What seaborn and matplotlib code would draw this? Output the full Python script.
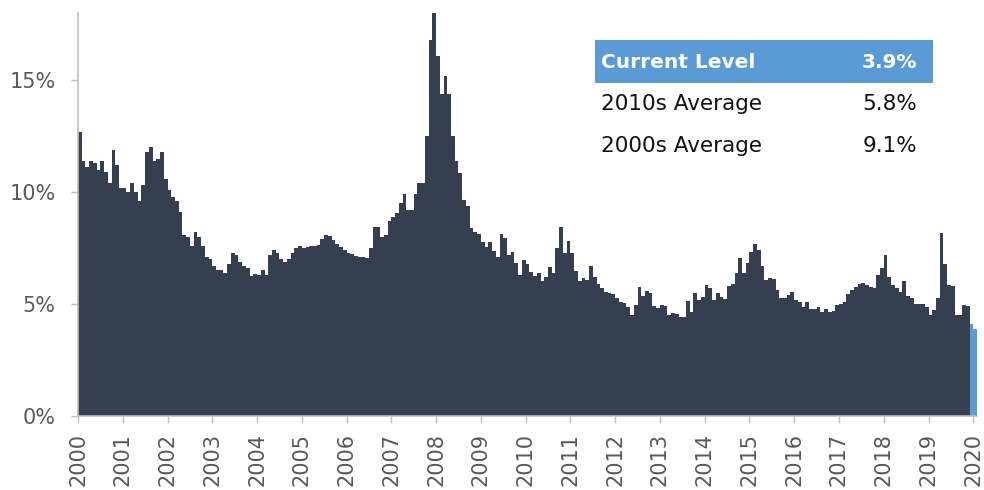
import numpy as np
import pandas as pd
import matplotlib
matplotlib.use("Agg")
import matplotlib.pyplot as plt
import seaborn as sns
from matplotlib.patches import Rectangle

# Monthly values, Jan 2000 .. Jan 2020 (percent)
values_2000s = [
    12.7, 11.4, 11.1, 11.4, 11.3, 11.0, 11.4, 10.9, 10.4, 11.9, 11.2, 10.2,   # 2000
    10.2, 10.0, 10.4, 10.0, 9.6, 10.3, 11.8, 12.0, 11.4, 11.5, 11.8, 10.6,    # 2001
    10.1, 9.8, 9.6, 9.1, 8.1, 8.0, 7.6, 8.2, 8.0, 7.6, 7.1, 7.0,              # 2002
    6.7, 6.5, 6.5, 6.4, 6.8, 7.3, 7.2, 6.9, 6.7, 6.6, 6.25, 6.35,             # 2003
    6.3, 6.5, 6.3, 7.2, 7.4, 7.3, 7.0, 6.9, 7.0, 7.3, 7.5, 7.6,               # 2004
    7.5, 7.55, 7.6, 7.6, 7.65, 7.9, 8.1, 8.05, 7.85, 7.7, 7.55, 7.4,          # 2005
    7.3, 7.25, 7.15, 7.1, 7.1, 7.05, 7.5, 8.45, 8.45, 8.0, 8.1, 8.7,          # 2006
    8.9, 9.05, 9.5, 9.9, 9.2, 9.2, 9.9, 10.4, 10.4, 12.5, 16.8, 18.0,         # 2007
    16.1, 14.4, 15.2, 14.4, 12.5, 11.4, 10.85, 9.65, 9.4, 8.4, 8.2, 8.15,     # 2008
    7.75, 7.55, 7.75, 7.35, 7.1, 8.15, 7.96, 7.19, 7.34, 6.82, 6.29, 6.99,    # 2009
]
values_2010s = [
    6.79, 6.41, 6.25, 6.37, 6.04, 6.22, 6.67, 6.37, 7.51, 8.42, 7.29, 7.80,   # 2010
    7.29, 6.47, 6.03, 6.15, 6.07, 6.70, 6.19, 5.88, 5.70, 5.52, 5.48, 5.43,   # 2011
    5.25, 5.09, 5.03, 4.85, 4.51, 4.96, 5.77, 5.37, 5.59, 5.48, 4.93, 4.84,   # 2012
    4.94, 4.90, 4.51, 4.58, 4.54, 4.40, 4.43, 5.12, 4.66, 5.48, 5.18, 5.33,   # 2013
    5.85, 5.73, 5.18, 5.51, 5.33, 5.24, 5.80, 5.89, 6.37, 7.04, 6.40, 6.85,   # 2014
    7.34, 7.68, 7.41, 6.71, 6.07, 6.15, 6.13, 5.61, 5.28, 5.25, 5.39, 5.55,   # 2015
    5.18, 5.10, 4.88, 5.07, 4.76, 4.76, 4.88, 4.66, 4.76, 4.63, 4.69, 4.96,   # 2016
    4.99, 5.10, 5.45, 5.65, 5.74, 5.88, 5.92, 5.83, 5.77, 5.73, 6.29, 6.59,   # 2017
    7.19, 6.22, 5.85, 5.70, 5.52, 6.04, 5.36, 5.25, 4.99, 4.99, 4.99, 4.85,   # 2018
    4.51, 4.73, 5.28, 8.18, 6.79, 5.83, 5.80, 4.51, 4.51, 4.96, 4.90, 4.09,   # 2019
]
values_2020 = [3.9]
values = values_2000s + values_2010s + values_2020
n_current = 2  # most recent bars highlighted

year_labels = [str(y) for y in range(2000, 2021)]
ytick_vals = [0, 5, 10, 15]
ytick_labels = ["0%", "5%", "10%", "15%"]

table_labels = ["Current Level", "2010s Average", "2000s Average"]
table_values = ["3.9%", "5.8%", "9.1%"]

DARK = "#353F50"
BLUE = "#5B9BD5"
AXIS_GRAY = "#BFBFBF"
TEXT_GRAY = "#595959"

sns.set_theme(style="white")
plt.rcParams['font.family'] = ['DejaVu Sans']

W, H = 984, 490
fig = plt.figure(figsize=(W / 100, H / 100), dpi=100)
ax = fig.add_axes([78 / W, 1 - 416 / H, (977 - 78) / W, (416 - 13) / H])

n = len(values)
df = pd.DataFrame({
    "idx": np.arange(n),
    "value": values,
    "group": ["past"] * (n - n_current) + ["current"] * n_current,
})
sns.barplot(data=df, x="idx", y="value", hue="group",
            palette={"past": DARK, "current": BLUE},
            width=1.0, dodge=False, legend=False, saturation=1,
            linewidth=0, ax=ax)
for p in ax.patches:
    p.set_edgecolor("none")
    p.set_linewidth(0)
    p.set_antialiased(False)

ax.set_xlim(-0.5, n - 0.5)
ax.set_ylim(0, 18)
ax.set_xticks([12 * k - 0.5 for k in range(len(year_labels))])
ax.set_xticklabels(year_labels, rotation=90, fontsize=15, color=TEXT_GRAY)
ax.set_yticks(ytick_vals)
ax.set_yticklabels(ytick_labels, fontsize=15, color=TEXT_GRAY)
ax.set_xlabel("")
ax.set_ylabel("")
ax.tick_params(axis="x", length=5, width=1, color=AXIS_GRAY, pad=7, direction="out", bottom=True)
ax.tick_params(axis="y", length=5, width=1, color=AXIS_GRAY, pad=11, direction="out", left=True)
for s in ["top", "right"]:
    ax.spines[s].set_visible(False)
for s in ["left", "bottom"]:
    ax.spines[s].set_color(AXIS_GRAY)
    ax.spines[s].set_linewidth(1.2)

# Summary table
fig.patches.append(Rectangle((595 / W, 1 - 83 / H), (933 - 595) / W, (83 - 40) / H,
                             transform=fig.transFigure, facecolor=BLUE,
                             edgecolor="none", zorder=5))
row_y = [62.5, 104.5, 146.5]
for i, (lab, val) in enumerate(zip(table_labels, table_values)):
    y = 1 - row_y[i] / H
    if i == 0:
        kw = dict(color="white", fontweight="bold", fontsize=14.5)
    else:
        kw = dict(color="#111111", fontsize=15.5)
    fig.text(601 / W, y, lab, ha="left", va="center", zorder=6, **kw)
    fig.text(917 / W, y, val, ha="right", va="center", zorder=6, **kw)

fig.savefig("out.png", dpi=100)
